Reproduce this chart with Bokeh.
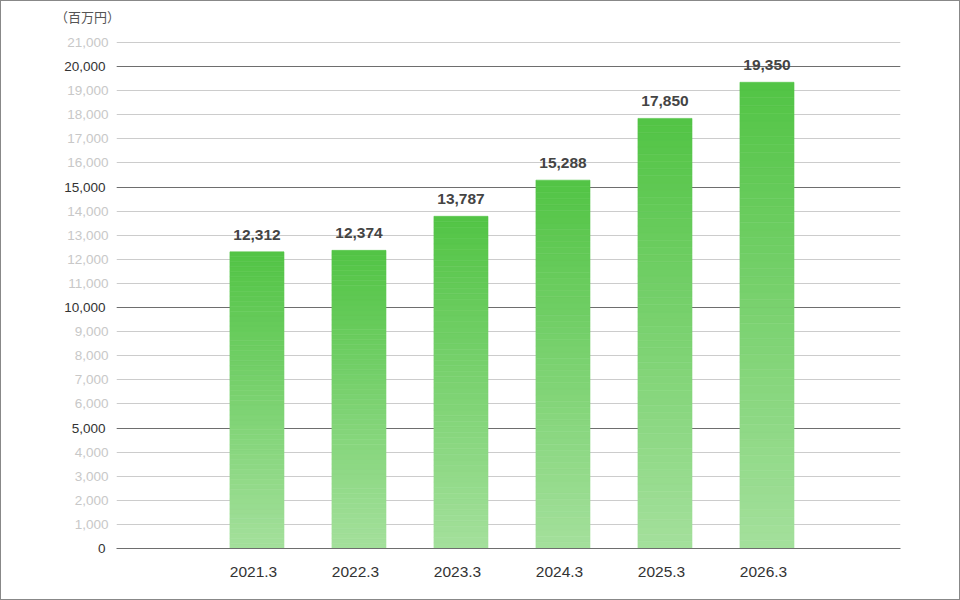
from bokeh.plotting import figure
from bokeh.layouts import column
from bokeh.models import Range1d, FixedTicker, Grid, LinearAxis, ColumnDataSource, NumeralTickFormatter, Div
from bokeh.core.properties import value
from bokeh.transform import dodge
from bokeh.embed import file_html
from bokeh.resources import INLINE

# ---- data ----
categories = ["2021.3", "2022.3", "2023.3", "2024.3", "2025.3", "2026.3"]
sales = [12312, 12374, 13787, 15288, 17850, 19350]
y_ticks = list(range(0, 21001, 1000))
major_ticks = [0, 5000, 10000, 15000, 20000]
minor_ticks = [t for t in y_ticks if t not in major_ticks]
unit_label = "（百万円）"

FONT = "Liberation Sans"
TOP_RGB = (82, 196, 69)
BOT_RGB = (164, 224, 156)
N_SEG = 60
PAD = 0.843
BAR_SHIFT = 0.034
Y_MAX = 21000
Y_HEADROOM = 42
LABEL_W = 41  # approx. pixel width of a "19,000" label at 13.5px
HEAD_H = 30

head = Div(text=('<div style="margin:0;padding:7px 0 0 54px;font-family:\'Noto Sans CJK JP\';'
                 'font-size:13px;line-height:18px;color:#555555;white-space:nowrap;">'
                 + unit_label + '</div>'),
           width=958, height=HEAD_H, margin=0)

p = figure(width=958, height=598 - HEAD_H, x_range=categories, y_range=Range1d(0, Y_MAX + Y_HEADROOM),
           output_backend="svg", toolbar_location=None,
           min_border_left=115, min_border_right=59, min_border_top=10, min_border_bottom=51)
p.x_range.range_padding = PAD
p.x_range.range_padding_units = "absolute"
p.outline_line_color = None
p.background_fill_color = "white"
p.border_fill_color = "white"
p.margin = 0

# grids
p.xgrid.visible = False
p.ygrid.ticker = FixedTicker(ticks=y_ticks)
p.ygrid.grid_line_color = "#cccccc"
p.ygrid.grid_line_width = 1
major_grid = Grid(dimension=1, ticker=FixedTicker(ticks=[t for t in major_ticks if t > 0]),
                  grid_line_color="#6e6e6e", grid_line_width=1)
p.add_layout(major_grid)

# gradient bars built from segments
xs, bottoms, tops, colors = [], [], [], []
for c, v in zip(categories, sales):
    for i in range(N_SEG):
        f = (i + 0.5) / N_SEG  # 0 bottom -> 1 top
        r = round(BOT_RGB[0] + (TOP_RGB[0] - BOT_RGB[0]) * f)
        g = round(BOT_RGB[1] + (TOP_RGB[1] - BOT_RGB[1]) * f)
        b = round(BOT_RGB[2] + (TOP_RGB[2] - BOT_RGB[2]) * f)
        xs.append(c)
        bottoms.append(v * i / N_SEG)
        tops.append(v * (i + 1) / N_SEG)
        colors.append("#%02x%02x%02x" % (r, g, b))
seg = ColumnDataSource(dict(x=xs, bottom=bottoms, top=tops, color=colors))
p.vbar(x=dodge("x", BAR_SHIFT, range=p.x_range), bottom="bottom", top="top", width=0.53,
       source=seg, fill_color="color", line_color="color", line_width=0.6)

# value labels
lab = ColumnDataSource(dict(x=categories, y=sales, t=[f"{v:,}" for v in sales]))
p.text(x=dodge("x", BAR_SHIFT, range=p.x_range), y="y", text="t", source=lab, y_offset=-12,
       text_align="center", text_baseline="bottom",
       text_font=value(FONT), text_font_style="bold", text_font_size="15.5px",
       text_color="#444444")

# x axis
xa = p.xaxis[0]
xa.axis_line_color = "#6e6e6e"
xa.major_tick_line_color = None
xa.minor_tick_line_color = None
xa.major_label_standoff = 12
xa.major_label_text_font = FONT
xa.major_label_text_font_size = "15.5px"
xa.major_label_text_color = "#333333"

# y axes: inner one shows light labels, outer one (pulled back with a negative
# standoff) shows dark labels for every 5,000
def style_y(ax, ticks, color, standoff):
    ax.ticker = FixedTicker(ticks=ticks)
    ax.formatter = NumeralTickFormatter(format="0,0")
    ax.axis_line_color = None
    ax.major_tick_line_color = None
    ax.minor_tick_line_color = None
    ax.major_tick_out = 0
    ax.major_tick_in = 0
    ax.major_label_standoff = standoff
    ax.major_label_text_font = FONT
    ax.major_label_text_font_size = "13.5px"
    ax.major_label_text_color = color

ya = p.yaxis[0]
style_y(ya, minor_ticks, "#c8c8c8", 8)
yb = LinearAxis()
p.add_layout(yb, "left")
style_y(yb, major_ticks, "#333333", -LABEL_W)

layout = column(head, p, spacing=0, margin=0, styles={"border": "1px solid #888888"})

open("out.html", "w").write(file_html(layout, INLINE))
